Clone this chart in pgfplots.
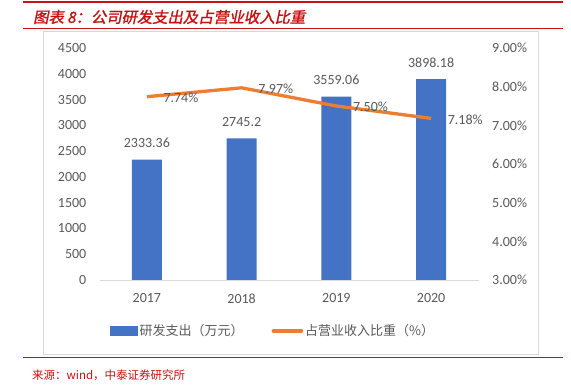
\documentclass[border=0pt]{standalone}
\usepackage{fontspec}
\setmainfont{Carlito}
\newfontfamily\cjk{Noto Sans CJK SC}
\newfontfamily\cjktitle[FakeSlant=0.2,FakeBold=1.5]{Noto Sans CJK SC}
\usepackage{pgfplots}
\pgfplotsset{compat=1.18}
\definecolor{barblue}{HTML}{4472C4}
\definecolor{lineorange}{HTML}{ED7D31}
\definecolor{txtgray}{HTML}{595959}
\definecolor{hdrred}{RGB}{200,16,16}
\definecolor{framegray}{HTML}{D9D9D9}
\begin{document}
\begin{tikzpicture}
\path[use as bounding box] (0,0) rectangle (571pt,387pt);
\draw[hdrred, line width=2pt] (23pt,385pt) -- (563pt,385pt);
\node[anchor=west, inner sep=0pt, text=hdrred, font=\fontsize{15.3}{18}\cjktitle] at (33pt,370pt) {图表 8：公司研发支出及占营业收入比重};
\draw[hdrred, line width=1pt] (23pt,358pt) -- (563pt,358pt);
\draw[framegray, line width=0.8pt] (43pt,33pt) rectangle (538pt,356pt);
\draw[hdrred, line width=1pt] (23pt,29pt) -- (563pt,29pt);
\node[anchor=west, inner sep=0pt, text=hdrred, font=\fontsize{11.5}{14}\cjk] at (32pt,12pt) {来源：wind，中泰证券研究所};

\begin{axis}[
  at={(99.5pt,107pt)}, anchor=south west,
  scale only axis, width=379pt, height=232pt,
  ybar, bar width=30pt,
  xmin=-0.5, xmax=3.5, ymin=0, ymax=4500,
  xtick={0,1,2,3}, xticklabels={2017,2018,2019,2020},
  ytick={0,500,...,4500},
  axis x line*=bottom, axis y line*=left,
  x axis line style={-, draw=framegray, line width=0.8pt},
  y axis line style={draw=none},
  tick style={draw=none}, major tick length=0pt,
  tick label style={text=txtgray, font=\fontsize{14}{16}\selectfont, inner sep=0pt},
  xticklabel style={anchor=north, yshift=-13.5pt},
  yticklabel style={anchor=east, xshift=-13pt},
  /pgf/number format/1000 sep={},
  /pgf/number format/assume math mode=true,
  clip=false,
]
\addplot[fill=barblue, draw=none, point meta=explicit symbolic, nodes near coords,
  every node near coord/.append style={text=txtgray, font=\fontsize{14}{16}\selectfont, inner sep=0pt, anchor=south, yshift=11.5pt}]
  coordinates {(0,2333.36)[2333.36] (1,2745.2)[2745.2] (2,3559.06)[3559.06] (3,3898.18)[3898.18]};
\end{axis}

\begin{axis}[
  at={(99.5pt,107pt)}, anchor=south west,
  scale only axis, width=379pt, height=232pt,
  xmin=-0.5, xmax=3.5, ymin=3, ymax=9,
  axis x line=none, axis y line*=right,
  y axis line style={draw=none},
  tick style={draw=none}, major tick length=0pt,
  ytick={3,4,5,6,7,8,9},
  yticklabel={\pgfmathprintnumber[fixed,fixed zerofill,precision=2]{\tick}\%},
  yticklabel style={anchor=west, xshift=13.5pt, text=txtgray, font=\fontsize{14}{16}\selectfont, inner sep=0pt},
  /pgf/number format/assume math mode=true,
  clip=false,
  legend columns=2,
  legend style={at={(0.028,-0.22)}, anchor=west, draw=none, fill=none, inner sep=0pt,
    font=\fontsize{13}{15}\cjk, text=txtgray,
    /tikz/every even column/.append style={column sep=26pt}},
]
\addlegendimage{legend image code/.code={\fill[barblue] (0pt,-4.5pt) rectangle (27pt,4.5pt);}}
\addlegendentry{研发支出（万元）}
\addlegendimage{legend image code/.code={\draw[lineorange, line width=3.5pt, line cap=round] (1.5pt,0pt) -- (29.5pt,0pt);}}
\addlegendentry{占营业收入比重（\%）}
\addplot[forget plot, lineorange, line width=3.3pt, line join=round, point meta=explicit symbolic, nodes near coords,
  every node near coord/.append style={text=txtgray, font=\fontsize{14}{16}\selectfont, inner sep=0pt, anchor=west, xshift=15pt, yshift=-1pt}]
  coordinates {(0,7.74)[7.74\%] (1,7.97)[7.97\%] (2,7.50)[7.50\%] (3,7.18)[7.18\%]};
\end{axis}
\end{tikzpicture}
\end{document}
